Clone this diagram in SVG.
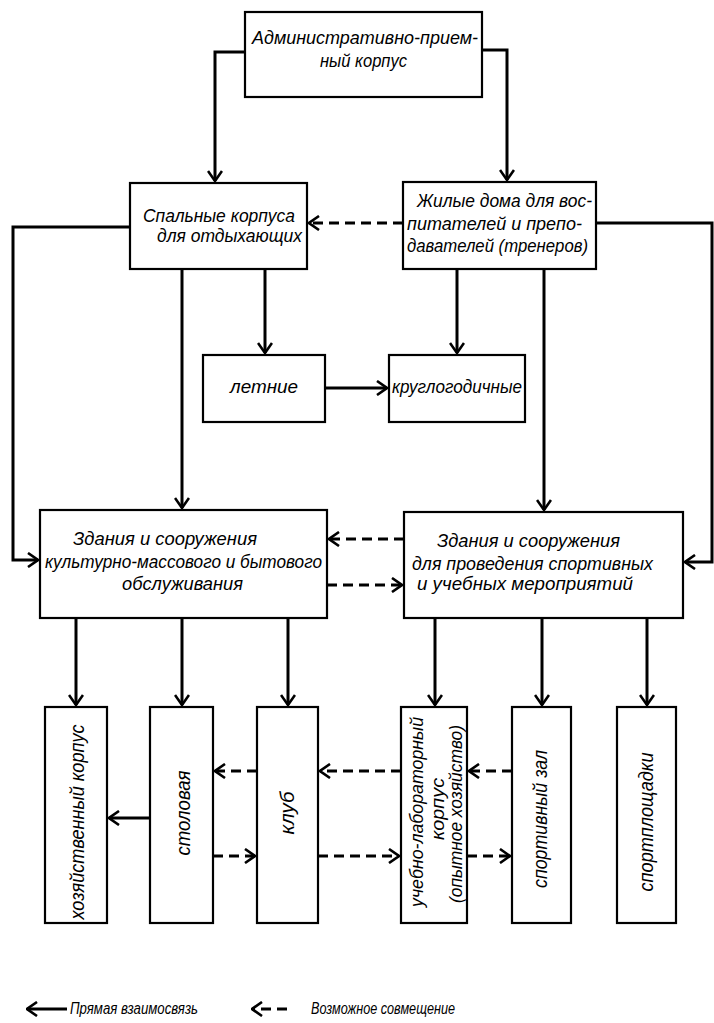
<svg xmlns="http://www.w3.org/2000/svg" width="714" height="1023" viewBox="0 0 714 1023">
<style>
.box{fill:#fff;stroke:#000;stroke-width:2.2}
.t{font-family:"Liberation Sans","DejaVu Sans",sans-serif;font-style:italic;font-size:19px;fill:#000}
.v{font-size:20px}
.lg{font-size:16px}
.c{fill:none;stroke:#000;stroke-width:3}
.d{fill:none;stroke:#000;stroke-width:3;stroke-dasharray:10 6}
</style>
<defs>
<marker id="ah" viewBox="0 0 12 16" refX="11" refY="8" markerWidth="12" markerHeight="16" markerUnits="userSpaceOnUse" orient="auto">
<path d="M1,1 L11,8 L1,15" fill="none" stroke="#000" stroke-width="2.6"/>
</marker>
</defs>
<rect width="714" height="1023" fill="#fff"/>
<g id="connectors">
<path class="c" d="M245,52 H215 V181" marker-end="url(#ah)"/>
<path class="c" d="M482,50 H507 V180" marker-end="url(#ah)"/>
<path class="c" d="M130,227 H13 V560 H38" marker-end="url(#ah)"/>
<path class="c" d="M182,269 V508" marker-end="url(#ah)"/>
<path class="c" d="M265,269 V353" marker-end="url(#ah)"/>
<path class="c" d="M325,388 H387" marker-end="url(#ah)"/>
<path class="d" d="M403,223 H309" marker-end="url(#ah)"/>
<path class="c" d="M596,223 H712 V562 H685" marker-end="url(#ah)"/>
<path class="c" d="M457,269 V353" marker-end="url(#ah)"/>
<path class="c" d="M544,269 V510" marker-end="url(#ah)"/>
<path class="d" d="M404,539 H329" marker-end="url(#ah)"/>
<path class="d" d="M327,585 H402" marker-end="url(#ah)"/>
<path class="c" d="M76,618 V705" marker-end="url(#ah)"/>
<path class="c" d="M182,618 V705" marker-end="url(#ah)"/>
<path class="c" d="M288,618 V705" marker-end="url(#ah)"/>
<path class="c" d="M435,618 V705" marker-end="url(#ah)"/>
<path class="c" d="M542,618 V705" marker-end="url(#ah)"/>
<path class="c" d="M647,618 V705" marker-end="url(#ah)"/>
<path class="c" d="M150,818 H109" marker-end="url(#ah)"/>
<path class="d" d="M257,771 H215" marker-end="url(#ah)"/>
<path class="d" d="M213,856 H255" marker-end="url(#ah)"/>
<path class="d" d="M401,771 H320" marker-end="url(#ah)"/>
<path class="d" d="M318,856 H399" marker-end="url(#ah)"/>
<path class="d" d="M512,771 H469" marker-end="url(#ah)"/>
<path class="d" d="M467,856 H510" marker-end="url(#ah)"/>
</g>
<g id="n-admin">
<rect class="box" x="245" y="12" width="237" height="85"/>
<text class="t" x="252" y="44" textLength="226" lengthAdjust="spacingAndGlyphs">Административно-прием-</text>
<text class="t" x="320" y="67" textLength="87" lengthAdjust="spacingAndGlyphs">ный корпус</text>
</g>
<g id="n-spal">
<rect class="box" x="130" y="183" width="177" height="86"/>
<text class="t" x="143" y="222" textLength="152" lengthAdjust="spacingAndGlyphs">Спальные корпуса</text>
<text class="t" x="157" y="242" textLength="145" lengthAdjust="spacingAndGlyphs">для отдыхающих</text>
</g>
<g id="n-zhil">
<rect class="box" x="403" y="182" width="193" height="87"/>
<text class="t" x="417" y="207" textLength="175" lengthAdjust="spacingAndGlyphs">Жилые дома  для вос-</text>
<text class="t" x="407" y="230" textLength="175" lengthAdjust="spacingAndGlyphs">питателей и препо-</text>
<text class="t" x="407" y="252" textLength="181" lengthAdjust="spacingAndGlyphs">давателей (тренеров)</text>
</g>
<g id="n-letn">
<rect class="box" x="203" y="355" width="122" height="67"/>
<text class="t" x="230" y="393" textLength="68" lengthAdjust="spacingAndGlyphs">летние</text>
</g>
<g id="n-krug">
<rect class="box" x="389" y="355" width="136" height="67"/>
<text class="t" x="392" y="393" textLength="130" lengthAdjust="spacingAndGlyphs">круглогодичные</text>
</g>
<g id="n-kult">
<rect class="box" x="40" y="510" width="287" height="108"/>
<text class="t" x="73" y="545" textLength="184" lengthAdjust="spacingAndGlyphs">Здания и  сооружения</text>
<text class="t" x="45" y="568" textLength="277" lengthAdjust="spacingAndGlyphs">культурно-массового и бытового</text>
<text class="t" x="122" y="590" textLength="121" lengthAdjust="spacingAndGlyphs">обслуживания</text>
</g>
<g id="n-sport">
<rect class="box" x="404" y="512" width="279" height="106"/>
<text class="t" x="437" y="547" textLength="183" lengthAdjust="spacingAndGlyphs">Здания и сооружения</text>
<text class="t" x="412" y="570" textLength="241" lengthAdjust="spacingAndGlyphs">для проведения спортивных</text>
<text class="t" x="417" y="590" textLength="216" lengthAdjust="spacingAndGlyphs">и учебных мероприятий</text>
</g>
<g id="n-hoz">
<rect class="box" x="45" y="707" width="62" height="216"/>
<text class="t v" transform="translate(84,822) rotate(-90)" text-anchor="middle" textLength="195" lengthAdjust="spacingAndGlyphs">хозяйственный корпус</text>
</g>
<g id="n-stol">
<rect class="box" x="150" y="707" width="63" height="216"/>
<text class="t v" transform="translate(190,813) rotate(-90)" text-anchor="middle" textLength="85" lengthAdjust="spacingAndGlyphs">столовая</text>
</g>
<g id="n-klub">
<rect class="box" x="257" y="707" width="61" height="216"/>
<text class="t v" transform="translate(294,813) rotate(-90)" text-anchor="middle" textLength="43" lengthAdjust="spacingAndGlyphs">клуб</text>
</g>
<g id="n-ucheb">
<rect class="box" x="401" y="707" width="66" height="216"/>
<text class="t" transform="translate(423,812) rotate(-90)" text-anchor="middle" textLength="190" lengthAdjust="spacingAndGlyphs">учебно-лабораторный</text>
<text class="t" transform="translate(444,809) rotate(-90)" text-anchor="middle" textLength="62" lengthAdjust="spacingAndGlyphs">корпус</text>
<text class="t" transform="translate(462,814) rotate(-90)" text-anchor="middle" textLength="178" lengthAdjust="spacingAndGlyphs">(опытное хозяйство)</text>
</g>
<g id="n-zal">
<rect class="box" x="512" y="707" width="59" height="216"/>
<text class="t v" transform="translate(547,819) rotate(-90)" text-anchor="middle" textLength="138" lengthAdjust="spacingAndGlyphs">спортивный зал</text>
</g>
<g id="n-plosh">
<rect class="box" x="617" y="707" width="59" height="216"/>
<text class="t v" transform="translate(653,822) rotate(-90)" text-anchor="middle" textLength="139" lengthAdjust="spacingAndGlyphs">спортплощадки</text>
</g>
<g id="legend">
<path class="c" d="M67,1009 H27" marker-end="url(#ah)"/>
<path class="d" d="M287,1009 H252" marker-end="url(#ah)"/>
<text class="t lg" x="70" y="1014" textLength="128" lengthAdjust="spacingAndGlyphs">Прямая взаимосвязь</text>
<text class="t lg" x="311" y="1014" textLength="144" lengthAdjust="spacingAndGlyphs">Возможное совмещение</text>
</g>
</svg>
